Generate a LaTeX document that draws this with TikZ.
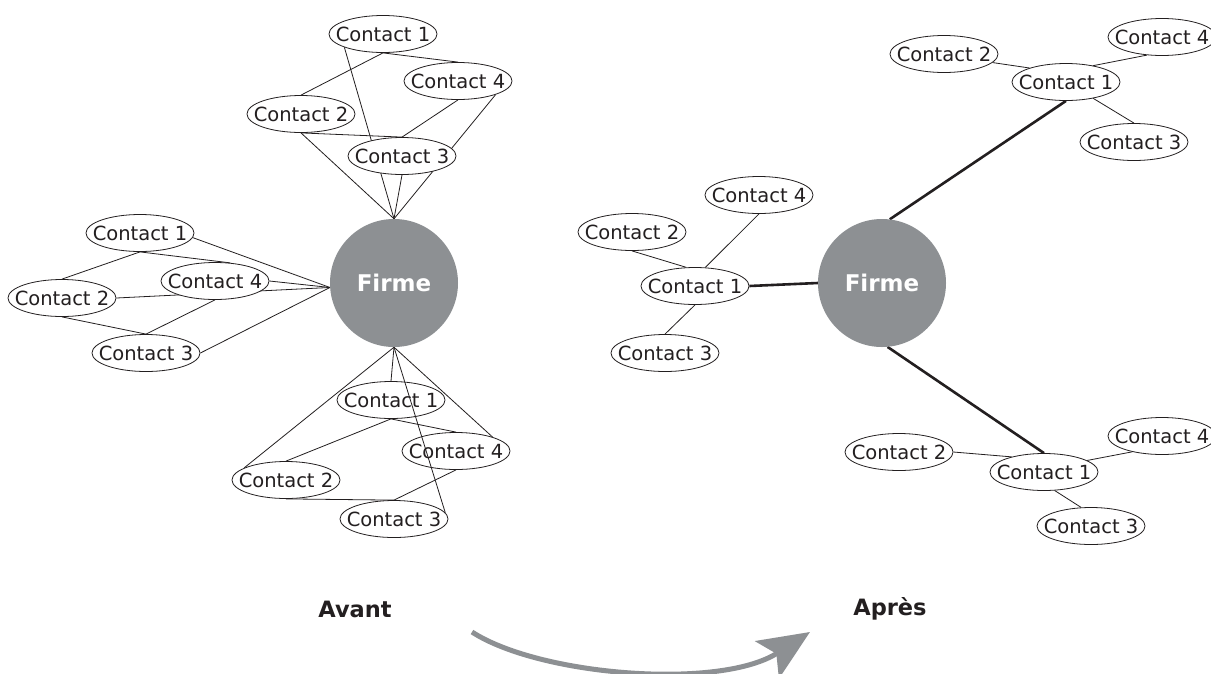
\documentclass[tikz,border=0pt]{standalone}
\usepackage{fontspec}
\setmainfont{DejaVu Sans}
\usetikzlibrary{shapes.geometric,arrows.meta}
\definecolor{firmgray}{HTML}{8D9093}
\definecolor{inkc}{HTML}{231F20}
\pgfdeclarelayer{bgl}
\pgfdeclarelayer{edgel}
\pgfsetlayers{bgl,edgel,main}
\begin{document}
\begin{tikzpicture}[x=1pt,y=-1pt,
  contact/.style={ellipse,draw=inkc,line width=0.8pt,fill=white,
    minimum width=108pt,minimum height=37pt,inner sep=0pt,
    font=\fontsize{19.5}{20}\selectfont,text=inkc},
  firm/.style={circle,fill=firmgray,minimum size=128pt,inner sep=0pt,
    text=white,font=\bfseries\fontsize{23}{24}\selectfont},
  caption/.style={text=inkc,font=\bfseries\fontsize{22.5}{24}\selectfont,inner sep=0pt},
  link/.style={draw=inkc,line width=0.8pt},
  strong/.style={draw=inkc,line width=2.6pt},
  flow/.style={draw=firmgray,line width=5pt,-{Stealth[length=51pt,width=44pt,inset=11pt]}}]
\useasboundingbox (0,0) rectangle (1211,673);
\begin{pgfonlayer}{bgl}
  \fill[white] (0,0) rectangle (1211,673);
\end{pgfonlayer}

% ---- Avant ----
\node[firm] (F1) at (394,283) {Firme};
\node[contact] (t1) at (383,34) {\makebox[0pt]{Contact 1}};
\node[contact] (t4) at (458,81) {\makebox[0pt]{Contact 4}};
\node[contact] (t2) at (301,114) {\makebox[0pt]{Contact 2}};
\node[contact] (t3) at (402,156) {\makebox[0pt]{Contact 3}};
\node[contact] (l1) at (140,233) {\makebox[0pt]{Contact 1}};
\node[contact] (l4) at (215,281) {\makebox[0pt]{Contact 4}};
\node[contact] (l2) at (62,298) {\makebox[0pt]{Contact 2}};
\node[contact] (l3) at (146,353) {\makebox[0pt]{Contact 3}};
\node[contact] (b1) at (391,400) {\makebox[0pt]{Contact 1}};
\node[contact] (b4) at (456,451) {\makebox[0pt]{Contact 4}};
\node[contact] (b2) at (286,480) {\makebox[0pt]{Contact 2}};
\node[contact] (b3) at (394,519) {\makebox[0pt]{Contact 3}};

% ---- Apres ----
\node[firm] (F2) at (882,283) {Firme};
\node[contact] (rl4) at (759,195) {\makebox[0pt]{Contact 4}};
\node[contact] (rl2) at (632,232) {\makebox[0pt]{Contact 2}};
\node[contact] (rl1) at (695,286) {\makebox[0pt]{Contact 1}};
\node[contact] (rl3) at (665,353) {\makebox[0pt]{Contact 3}};
\node[contact] (rt2) at (944,54) {\makebox[0pt]{Contact 2}};
\node[contact] (rt4) at (1162,37) {\makebox[0pt]{Contact 4}};
\node[contact] (rt1) at (1066,82) {\makebox[0pt]{Contact 1}};
\node[contact] (rt3) at (1134,142) {\makebox[0pt]{Contact 3}};
\node[contact] (rb2) at (899,452) {\makebox[0pt]{Contact 2}};
\node[contact] (rb4) at (1162,436) {\makebox[0pt]{Contact 4}};
\node[contact] (rb1) at (1044,472) {\makebox[0pt]{Contact 1}};
\node[contact] (rb3) at (1091,526) {\makebox[0pt]{Contact 3}};

\node[caption] (avant) at (355,609) {Avant};
\node[caption] (apres) at (890,609) {Après};

\coordinate (arrS) at (472,632);
\coordinate (arrE) at (810,632);
\draw[flow] (arrS) .. controls (540,676) and (720,690) .. (arrE);

% this connector runs over Contact 1 and Contact 4 in the reference
\path[link] (F1.south) -- (b3.7);

\begin{pgfonlayer}{edgel}
  % top cluster
  \path[link] (t1.south) -- (t2.north);
  \path[link] (t1.south) -- (t4.north);
  \path[link] (t1.199) -- (F1.north);
  \path[link] (t4.south) -- (t3.north);
  \path[link] (t4.340) -- (F1.north);
  \path[link] (t2.south) -- (t3.north);
  \path[link] (t2.south) -- (F1.north);
  \path[link] (t3.south) -- (F1.north);
  % left cluster
  \path[link] (l1.355) -- (F1.184);
  \path[link] (l1.south) -- (l2.north);
  \path[link] (l1.south) -- (l4.50);
  \path[link] (l4.east) -- (F1.184);
  \path[link] (l2.east) -- (F1.184);
  \path[link] (l4.south) -- (l3.north);
  \path[link] (l2.south) -- (l3.north);
  \path[link] (l3.east) -- (F1.184);
  % bottom cluster
  \path[link] (F1.south) -- (b2.164);
  \path[link] (F1.south) -- (b1.north);
  \path[link] (F1.south) -- (b4.21);
  \path[link] (b1.south) -- (b2.north);
  \path[link] (b1.south) -- (b4.north);
  \path[link] (b4.south) -- (b3.north);
  \path[link] (b2.south) -- (b3.north);
  % apres
  \path[strong] (rl1.east) -- (F2.west);
  \path[strong] (rt1.south) -- (F2.83);
  \path[strong] (F2.275) -- (rb1.north);
  \path[link] (rl4.south) -- (rl1.61);
  \path[link] (rl2.south) -- (rl1.115);
  \path[link] (rl1.south) -- (rl3.north);
  \path[link] (rt2.350) -- (rt1.159);
  \path[link] (rt1.31) -- (rt4.230);
  \path[link] (rt1.329) -- (rt3.north);
  \path[link] (rb2.east) -- (rb1.155);
  \path[link] (rb1.15) -- (rb4.208);
  \path[link] (rb1.300) -- (rb3.118);
\end{pgfonlayer}
\end{tikzpicture}
\end{document}
